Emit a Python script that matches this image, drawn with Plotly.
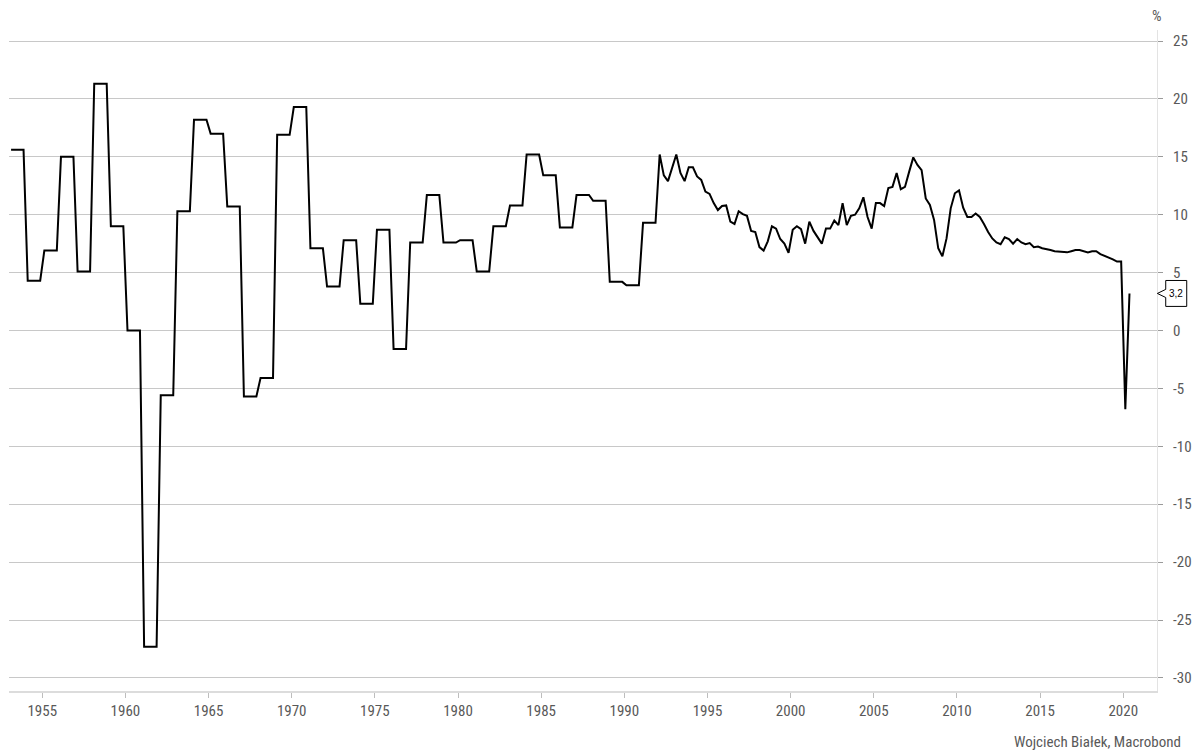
import plotly.graph_objects as go

# Annual real GDP growth, % y/y (1953-1991), shown as quarterly steps
annual_years = list(range(1953, 1992))
annual_growth = [
    15.6, 4.3, 6.9, 15.0, 5.1, 21.3, 9.0, 0.0, -27.3, -5.6,
    10.3, 18.2, 17.0, 10.7, -5.7, -4.1, 16.9, 19.3, 7.1, 3.8,
    7.8, 2.3, 8.7, -1.6, 7.6, 11.7, 7.6, 7.8, 5.1, 9.0,
    10.8, 15.2, 13.4, 8.9, 11.7, 11.2, 4.2, 3.9, 9.3,
]

# Quarterly real GDP growth, % y/y, from 1992 Q1 to 2020 Q2
quarterly_start_year = 1992
quarterly_growth = [
    15.2, 13.4, 12.9, 14.1,   # 1992
    15.2, 13.6, 12.9, 14.1,   # 1993
    14.1, 13.3, 13.0, 12.0,   # 1994
    11.8, 11.0, 10.4, 10.75,  # 1995
    10.8, 9.4, 9.2, 10.3,     # 1996
    10.05, 9.9, 8.6, 8.5,     # 1997
    7.2, 6.9, 7.7, 9.0,       # 1998
    8.8, 7.9, 7.5, 6.7,       # 1999
    8.7, 9.0, 8.75, 7.5,      # 2000
    9.4, 8.6, 8.0, 7.5,       # 2001
    8.8, 8.8, 9.5, 9.1,       # 2002
    11.0, 9.1, 9.9, 10.0,     # 2003
    10.55, 11.5, 9.8, 8.8,    # 2004
    11.0, 11.0, 10.75, 12.3,  # 2005
    12.4, 13.6, 12.2, 12.4,   # 2006
    13.7, 14.95, 14.3, 13.85, # 2007
    11.4, 10.85, 9.55, 7.1,   # 2008
    6.4, 7.95, 10.55, 11.85,  # 2009
    12.1, 10.6, 9.8, 9.8,     # 2010
    10.1, 9.8, 9.2, 8.5,      # 2011
    7.95, 7.6, 7.45, 8.05,    # 2012
    7.9, 7.5, 7.9, 7.6,       # 2013
    7.45, 7.55, 7.2, 7.25,    # 2014
    7.1, 7.05, 6.95, 6.85,    # 2015
    6.8, 6.75, 6.75, 6.85,    # 2016
    6.95, 6.95, 6.85, 6.75,   # 2017
    6.85, 6.85, 6.6, 6.45,    # 2018
    6.35, 6.15, 5.95, 5.95,   # 2019
    -6.8, 3.2,                # 2020
]

x_ticks = list(range(1955, 2021, 5))
y_ticks = list(range(-30, 26, 5))

# Place each quarter at its mid-point on a decimal-year axis
xs, ys = [], []
for yr, val in zip(annual_years, annual_growth):
    for q in range(4):
        xs.append(yr + (q + 0.5) / 4)
        ys.append(val)
for i, val in enumerate(quarterly_growth):
    yr = quarterly_start_year + i // 4
    q = i % 4
    xs.append(yr + (q + 0.5) / 4)
    ys.append(val)

last_value = quarterly_growth[-1]
label_text = f"{last_value:.1f}".replace(".", ",")

FONT = "Liberation Sans Narrow, Roboto Condensed, Arial Narrow, Roboto, sans-serif"
GREY_TXT = "#595959"

fig = go.Figure()
fig.add_trace(go.Scatter(
    x=xs, y=ys, mode="lines",
    line=dict(color="#000000", width=2),
    showlegend=False, hoverinfo="x+y",
))

# Last-value tag on the right edge
half_h = 1.12
notch = 0.35
tip_x, box_l, box_r = 1.0003, 1.0076, 1.0259
path = (
    f"M {box_l},{last_value + half_h} L {box_r},{last_value + half_h} "
    f"L {box_r},{last_value - half_h} L {box_l},{last_value - half_h} "
    f"L {box_l},{last_value - notch} L {tip_x},{last_value} "
    f"L {box_l},{last_value + notch} Z"
)
fig.add_shape(type="path", path=path, xref="paper", yref="y",
              line=dict(color="#000000", width=1), fillcolor="rgba(0,0,0,0)",
              layer="above")
fig.add_annotation(x=(box_l + box_r) / 2, y=last_value, xref="paper", yref="y",
                   text=label_text, showarrow=False,
                   xanchor="center", yanchor="middle",
                   font=dict(family="Liberation Sans, Arial, sans-serif",
                             size=10, color="#000000"))

fig.add_annotation(x=1.0, y=1.021, xref="paper", yref="paper", text="%",
                   showarrow=False, xanchor="center", yanchor="middle",
                   font=dict(family=FONT, size=15, color=GREY_TXT))
fig.add_annotation(x=1.0226, y=-0.077, xref="paper", yref="paper",
                   text="Wojciech Białek, Macrobond", showarrow=False,
                   xanchor="right", yanchor="middle",
                   font=dict(family=FONT, size=15, color=GREY_TXT))

fig.update_layout(
    width=1195, height=753, autosize=False,
    margin=dict(l=9, r=38, t=30, b=62),
    paper_bgcolor="#ffffff", plot_bgcolor="#ffffff",
    font=dict(family=FONT, size=15, color=GREY_TXT),
    xaxis=dict(
        range=[1953.0, 2022.03], automargin=False,
        tickvals=x_ticks, ticktext=[str(t) for t in x_ticks],
        showgrid=False, zeroline=False,
        showline=True, linecolor="#dcdcdc", linewidth=2,
        ticks="outside", ticklen=5, tickcolor="#bdbdbd", tickwidth=1,
        tickfont=dict(family=FONT, size=15, color=GREY_TXT),
    ),
    yaxis=dict(
        side="right", range=[-31.13, 25.95], automargin=False,
        tickvals=y_ticks, ticktext=[str(t) for t in y_ticks],
        showgrid=True, gridcolor="#c8c8c8", gridwidth=1,
        zeroline=False,
        showline=True, linecolor="#e3e3e3", linewidth=1,
        ticks="outside", ticklen=5, tickcolor="#9a9a9a", tickwidth=1,
        ticklabelstandoff=7,
        tickfont=dict(family=FONT, size=15, color=GREY_TXT),
    ),
)

fig.write_html("out.html")
